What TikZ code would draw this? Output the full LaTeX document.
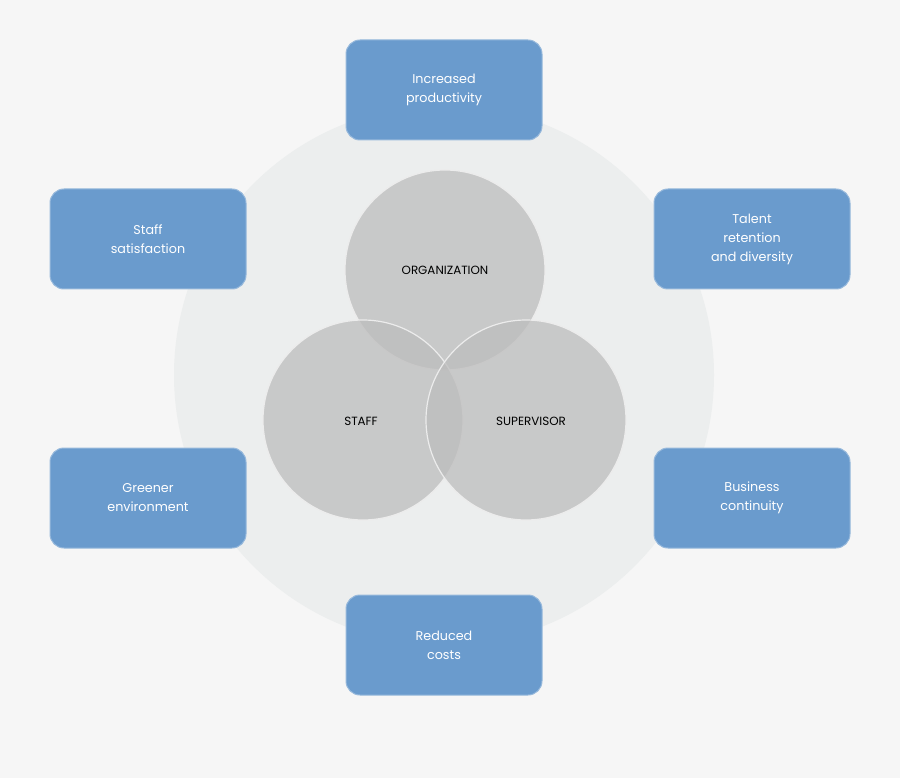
\documentclass[tikz,border=0pt]{standalone}
\usepackage{fontspec}
\setmainfont{Poppins}[Scale=0.85]
\begin{document}
\definecolor{bg}{HTML}{F6F6F6}
\definecolor{ring}{HTML}{ECEEEE}
\definecolor{boxc}{HTML}{6A9BCD}
\definecolor{venn}{HTML}{BDBDBD}
\begin{tikzpicture}[x=1pt,y=-1pt,
  box/.style={draw=boxc!70!white,line width=1pt,fill=boxc,rounded corners=14pt,minimum width=196pt,minimum height=100pt,text=white,align=center,font=\fontsize{15}{19}\selectfont},
  vc/.style={circle,draw=white!85!gray,line width=1.2pt,fill=venn,fill opacity=0.75,text opacity=1,minimum size=200pt,font=\fontsize{14}{17}\selectfont}]
\fill[bg] (0,0) rectangle (900,778);
\useasboundingbox (0,0) rectangle (900,778);
\node[circle,fill=ring,minimum size=540pt] (big) at (444,375) {};
\node[box] (b1) at (444,90) {Increased\\productivity};
\node[box] (b2) at (148,239) {Staff\\satisfaction};
\node[box] (b3) at (752,239) {Talent\\retention\\and diversity};
\node[box] (b4) at (148,498) {Greener\\environment};
\node[box] (b5) at (752,498) {Business\\continuity};
\node[box] (b6) at (444,645) {Reduced\\costs};
\node[vc] (org) at (445,270) {};
\node[vc] (staff) at (363,420) {};
\node[vc] (sup) at (526,420) {};
\node[font=\fontsize{14}{17}\selectfont] (t1) at (445,270) {ORGANIZATION};
\node[font=\fontsize{14}{17}\selectfont] (t2) at (361,421) {STAFF};
\node[font=\fontsize{14}{17}\selectfont] (t3) at (531,421) {SUPERVISOR};
\end{tikzpicture}
\end{document}
